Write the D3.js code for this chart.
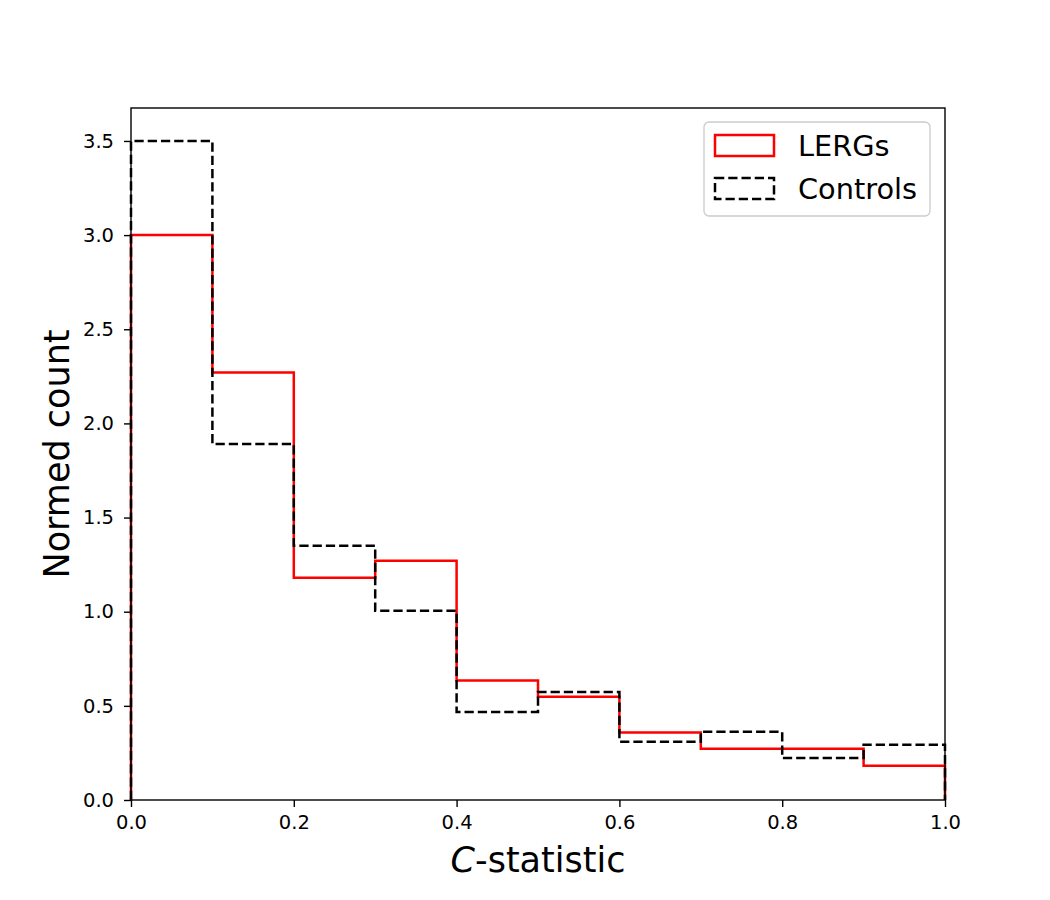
<!DOCTYPE html>
<html>
<head>
<meta charset="utf-8">
<script src="https://cdn.jsdelivr.net/npm/d3@7"></script>
<style>
  body { margin: 0; background: #fff; }
  svg { display: block; font-family: "DejaVu Sans", sans-serif; }
</style>
</head>
<body>
<div id="chart"></div>
<script>
// bin edges of the histogram
const binEdges = [0.0, 0.1, 0.2, 0.3, 0.4, 0.5, 0.6, 0.7, 0.8, 0.9, 1.0];

// normed counts per bin
const lergs = [3.0, 2.27, 1.18, 1.27, 0.635, 0.548, 0.358, 0.272, 0.272, 0.182];
const controls = [3.5, 1.89, 1.35, 1.005, 0.468, 0.574, 0.31, 0.362, 0.223, 0.293];

const xTicks = [0.0, 0.2, 0.4, 0.6, 0.8, 1.0];
const yTicks = [0.0, 0.5, 1.0, 1.5, 2.0, 2.5, 3.0, 3.5];

const width = 1050, height = 900;
const margin = { top: 108, right: 105, bottom: 100, left: 131 };

const svg = d3.select("#chart").append("svg")
  .attr("width", width)
  .attr("height", height)
  .attr("viewBox", [0, 0, width, height]);

const x = d3.scaleLinear()
  .domain([0, 1])
  .range([margin.left, width - margin.right]);

const y = d3.scaleLinear()
  .domain([0, 3.675])
  .range([height - margin.bottom, margin.top]);

// step outline like matplotlib histtype="step"
function stepPoints(values) {
  const pts = [[binEdges[0], 0]];
  values.forEach((v, i) => {
    pts.push([binEdges[i], v]);
    pts.push([binEdges[i + 1], v]);
  });
  pts.push([binEdges[binEdges.length - 1], 0]);
  return pts;
}

const line = d3.line()
  .x((d) => x(d[0]))
  .y((d) => y(d[1]));

svg.append("path")
  .datum(stepPoints(lergs))
  .attr("fill", "none")
  .attr("stroke", "#ff0000")
  .attr("stroke-width", 2.5)
  .attr("d", line);

svg.append("path")
  .datum(stepPoints(controls))
  .attr("fill", "none")
  .attr("stroke", "#000")
  .attr("stroke-width", 2.5)
  .attr("stroke-dasharray", "9.25,4")
  .attr("d", line);

// Axes
const xAxis = svg.append("g")
  .attr("transform", `translate(0, ${height - margin.bottom})`)
  .call(d3.axisBottom(x).tickValues(xTicks).tickFormat(d3.format(".1f"))
    .tickSizeOuter(0).tickSize(7).tickPadding(8));

const yAxis = svg.append("g")
  .attr("transform", `translate(${margin.left}, 0)`)
  .call(d3.axisLeft(y).tickValues(yTicks).tickFormat(d3.format(".1f"))
    .tickSizeOuter(0).tickSize(7).tickPadding(10));

[xAxis, yAxis].forEach((g) => {
  g.select(".domain").remove();
  g.selectAll(".tick line").attr("stroke", "#000").attr("stroke-width", 1.4);
  g.selectAll("text")
    .attr("fill", "#000")
    .style("font-family", "DejaVu Sans")
    .style("font-size", "19.5px");
});

// frame
svg.append("rect")
  .attr("x", x(0))
  .attr("y", y(3.675))
  .attr("width", x(1) - x(0))
  .attr("height", y(0) - y(3.675))
  .attr("fill", "none")
  .attr("stroke", "#000")
  .attr("stroke-width", 1.4);

// axis labels
const xLabel = svg.append("text")
  .attr("x", (x(0) + x(1)) / 2)
  .attr("y", 872)
  .attr("text-anchor", "middle")
  .style("font-size", "35px")
  .attr("fill", "#000");
xLabel.append("tspan").style("font-style", "italic").text("C");
xLabel.append("tspan").text("-statistic");

svg.append("text")
  .attr("transform", `translate(69, ${(y(0) + y(3.675)) / 2}) rotate(-90)`)
  .attr("text-anchor", "middle")
  .style("font-size", "35px")
  .attr("fill", "#000")
  .text("Normed count");

// legend
const legendItems = [
  { name: "LERGs", color: "#ff0000", dash: null },
  { name: "Controls", color: "#000", dash: "9.25,4" },
];

const legend = svg.append("g");
legend.append("rect")
  .attr("x", 704)
  .attr("y", 122)
  .attr("width", 226)
  .attr("height", 94)
  .attr("rx", 5)
  .attr("fill", "#fff")
  .attr("fill-opacity", 0.8)
  .attr("stroke", "#cccccc")
  .attr("stroke-width", 1.33);

legendItems.forEach((d, i) => {
  const top = 135 + i * 43;
  legend.append("rect")
    .attr("x", 715)
    .attr("y", top)
    .attr("width", 59)
    .attr("height", 21)
    .attr("fill", "none")
    .attr("stroke", d.color)
    .attr("stroke-width", 2.5)
    .attr("stroke-dasharray", d.dash);
  legend.append("text")
    .attr("x", 798)
    .attr("y", top + 21)
    .style("font-size", "28.8px")
    .attr("fill", "#000")
    .text(d.name);
});
</script>
</body>
</html>
